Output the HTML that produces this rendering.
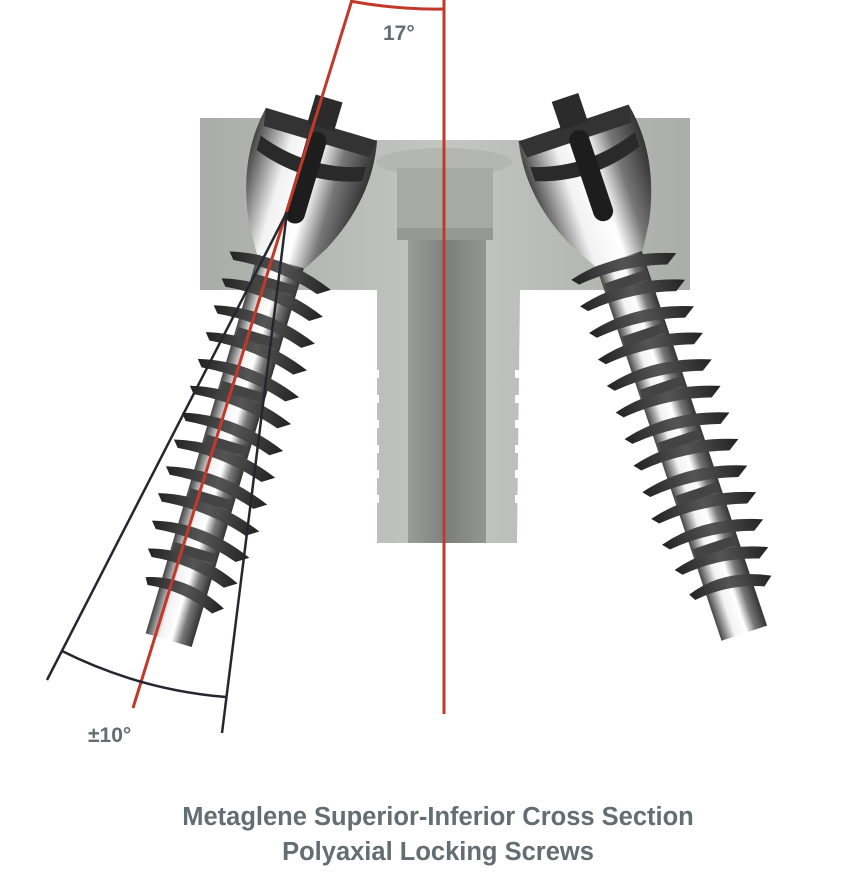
<!DOCTYPE html>
<html><head><meta charset="utf-8"><style>
html,body{margin:0;padding:0;background:#fff;}
body{width:860px;height:896px;overflow:hidden;position:relative;font-family:"Liberation Sans",sans-serif;}
.t{position:absolute;color:#636d72;font-weight:bold;}
</style></head><body>
<svg width="860" height="896" viewBox="0 0 860 896" style="position:absolute;left:0;top:0">
<defs>
<linearGradient id="plate" x1="0" x2="1"><stop offset="0" stop-color="#a9aca7"/><stop offset="0.5" stop-color="#c4c6c1"/><stop offset="1" stop-color="#aaada8"/></linearGradient>
<linearGradient id="bore" x1="0" x2="1"><stop offset="0" stop-color="#9a9e9a"/><stop offset="0.5" stop-color="#7b807d"/><stop offset="1" stop-color="#939793"/></linearGradient>
<linearGradient id="chrome" x1="0" x2="1"><stop offset="0" stop-color="#444"/><stop offset="0.3" stop-color="#f2f2f2"/><stop offset="0.55" stop-color="#ffffff"/><stop offset="0.75" stop-color="#777"/><stop offset="1" stop-color="#333"/></linearGradient>
<linearGradient id="fin" x1="0" x2="1"><stop offset="0" stop-color="#222"/><stop offset="0.5" stop-color="#555"/><stop offset="1" stop-color="#222"/></linearGradient>
<g id="screw">
  <rect x="-24" y="40" width="48" height="440" fill="url(#chrome)"/>
  <g fill="url(#fin)">
    <path d="M-52 90 Q0 76 56 98 L44 106 Q0 92 -46 97Z"/>
    <path d="M-52 118 Q0 104 56 126 L44 134 Q0 120 -46 125Z"/>
    <path d="M-52 146 Q0 132 56 154 L44 162 Q0 148 -46 153Z"/>
    <path d="M-52 174 Q0 160 56 182 L44 190 Q0 176 -46 181Z"/>
    <path d="M-52 202 Q0 188 56 210 L44 218 Q0 204 -46 209Z"/>
    <path d="M-52 230 Q0 216 56 238 L44 246 Q0 232 -46 237Z"/>
    <path d="M-52 258 Q0 244 56 266 L44 274 Q0 260 -46 265Z"/>
    <path d="M-52 286 Q0 272 56 294 L44 302 Q0 288 -46 293Z"/>
    <path d="M-52 314 Q0 300 56 322 L44 330 Q0 316 -46 321Z"/>
    <path d="M-52 342 Q0 328 56 350 L44 358 Q0 344 -46 349Z"/>
    <path d="M-50 370 Q0 356 54 378 L42 386 Q0 372 -44 377Z"/>
    <path d="M-46 398 Q0 384 50 406 L38 414 Q0 400 -40 405Z"/>
    <path d="M-40 426 Q0 412 44 434 L34 442 Q0 428 -36 433Z"/>
  </g>
  <g fill="#444">
    <rect x="-22" y="104" width="44" height="10"/><rect x="-22" y="160" width="44" height="10"/>
    <rect x="-22" y="216" width="44" height="10"/><rect x="-22" y="272" width="44" height="10"/>
    <rect x="-22" y="328" width="44" height="10"/><rect x="-22" y="384" width="44" height="10"/>
  </g>
  <path d="M-58 -58 L58 -58 Q70 0 40 60 L25 85 L-25 85 L-40 60 Q-70 0 -58 -58Z" fill="url(#chrome)"/>
  <path d="M-55 -30 Q0 -10 55 -30 L55 -15 Q0 5 -55 -15Z" fill="#2a2a2a"/>
  <path d="M-58 -58 L58 -58 L55 -40 L-55 -40Z" fill="#333"/>
  <rect x="-14" y="-85" width="28" height="30" fill="#2b2b2b"/>
  <rect x="-10" y="-50" width="20" height="95" rx="10" fill="#1d1d1d"/>
</g>
</defs>
<path d="M200 118 L262 118 L300 140 L530 140 L600 118 L690 118 L690 290 L520 290 L517 543 L377 543 L377 290 L200 290Z" fill="url(#plate)"/>
<rect x="408" y="238" width="78" height="305" fill="url(#bore)"/>
<ellipse cx="444" cy="162" rx="68" ry="14" fill="#b3b6b1"/>
<rect x="397" y="168" width="96" height="72" fill="#a6aaa5"/>
<rect x="397" y="228" width="96" height="12" fill="#959994"/>
<g fill="#fff">
  <rect x="370" y="370" width="9" height="8"/><rect x="370" y="395" width="9" height="8"/><rect x="370" y="420" width="9" height="8"/><rect x="370" y="445" width="9" height="8"/><rect x="370" y="470" width="9" height="8"/><rect x="370" y="495" width="9" height="8"/>
  <rect x="515" y="370" width="9" height="8"/><rect x="515" y="395" width="9" height="8"/><rect x="515" y="420" width="9" height="8"/><rect x="515" y="445" width="9" height="8"/><rect x="515" y="470" width="9" height="8"/><rect x="515" y="495" width="9" height="8"/>
</g>
<use href="#screw" transform="translate(305,180) rotate(16.5)"/>
<use href="#screw" transform="translate(592,178) rotate(-18.5)"/>
<g fill="none" stroke="#c0392b" stroke-width="3">
  <line x1="444" y1="0" x2="444" y2="714"/>
  <line x1="352" y1="0" x2="133" y2="708"/>
  <path d="M350 1 Q398 10 444 9"/>
</g>
<g fill="none" stroke="#262630" stroke-width="2.5">
  <line x1="287" y1="212" x2="47" y2="680"/>
  <line x1="287" y1="212" x2="222" y2="733"/>
  <path d="M62 651 Q140 690 226 697"/>
</g>
</svg>
<div class="t" style="left:383px;top:22px;font-size:21px;">17°</div>
<div class="t" style="left:88px;top:724px;font-size:21px;">±10°</div>
<div class="t" style="left:0;width:876px;text-align:center;top:800px;font-size:25.5px;line-height:35px;">Metaglene Superior-Inferior Cross Section<br>Polyaxial Locking Screws</div>
</body></html>
